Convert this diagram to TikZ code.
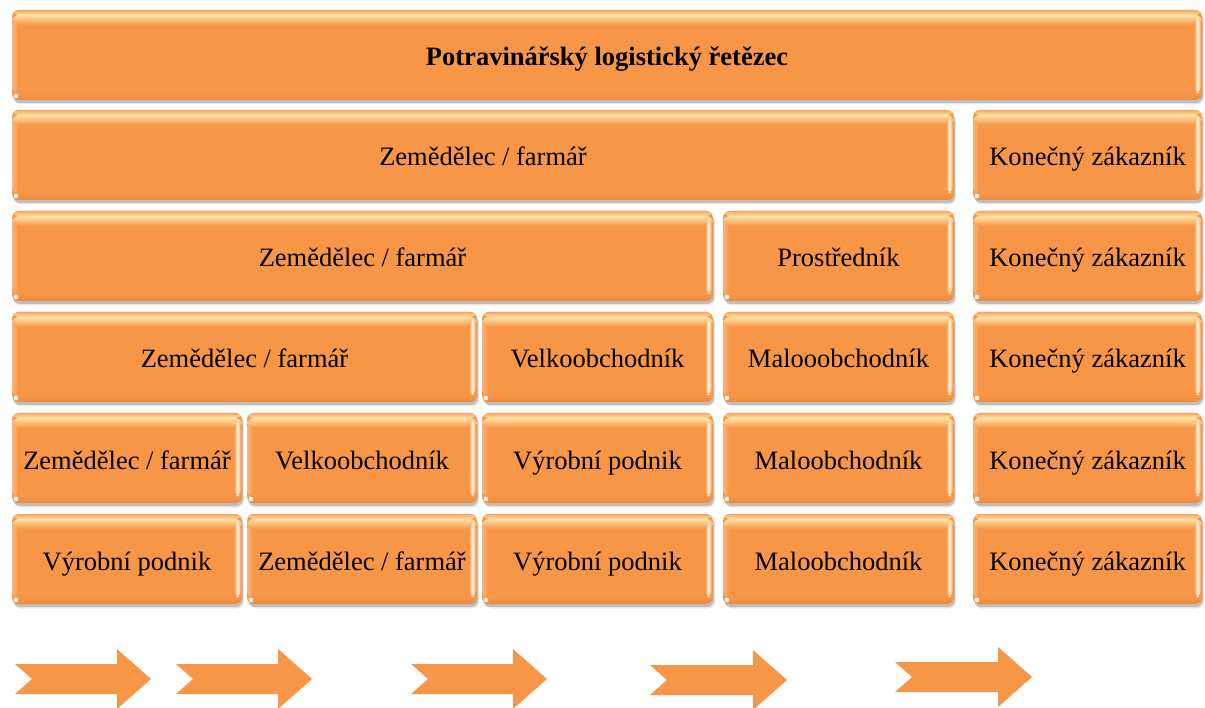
\documentclass[tikz,border=0pt]{standalone}
\usepackage{fontspec}
\setmainfont{Liberation Serif}
\usetikzlibrary{shadows,calc}

\definecolor{boxorange}{HTML}{F79646}
\definecolor{glow}{HTML}{FFE3A6}
\definecolor{glowwhite}{HTML}{FFF8E6}
\definecolor{rimdark}{HTML}{EC8A3E}

\tikzset{
  gbox/.style={
    rounded corners=7pt, fill=boxorange, inner sep=0pt,
    font=\fontsize{26.5}{30}\selectfont, text=black,
    text height=24pt, text depth=2pt,
    drop shadow={shadow xshift=1pt, shadow yshift=-3pt, opacity=0.18, fill=black},
    drop shadow={shadow xshift=2pt, shadow yshift=-4.5pt, opacity=0.09, fill=black},
    path picture={
      \path (path picture bounding box.north west) coordinate (pa)
            (path picture bounding box.south east) coordinate (pb);
      % left bevel
      \shade[left color=boxorange!70!white, right color=boxorange]
        ($(pa)+(0,8)$) rectangle ($(pa|-pb)+(6,-6)$);
      % bottom rim
      \shade[top color=boxorange, bottom color=rimdark]
        ($(pa|-pb)+(0,-7)$) rectangle (pb);
      % top bevel glare
      \shade[top color=boxorange!85!white, bottom color=glow]
        (pa) rectangle ($(pb|-pa)+(0,5)$);
      \shade[top color=glow, bottom color=boxorange]
        ($(pa)+(0,5)$) rectangle ($(pb|-pa)+(0,15)$);
      % right glossy streak
      \shade[left color=boxorange, right color=boxorange, middle color=glowwhite]
        ($(pb|-pa)+(-8,8)$) rectangle ($(pb)+(-1,-7)$);
      % small corner spark
      \fill[white, opacity=0.9] ($(pa|-pb)+(4,-4)$) circle (2.3);
    }
  },
  title/.style={font=\fontsize{26.5}{30}\selectfont\bfseries,
    text height=24pt, text depth=2pt},
  flowarrow/.style={fill=boxorange, draw=none}
}

% name, left, top, right, bottom, text
\newcommand\glossbox[6]{%
  \node[gbox, minimum width={(#4-#2)*1pt}, minimum height={(#5-#3)*1pt}]
    (#1) at ({(#2+#4)/2},{(#3+#5)/2}) {#6};%
}
% notched block arrow: tail x, tip x, tip y
\newcommand\blockarrow[3]{%
  \fill[flowarrow] (#1,#3-15) -- (#2-34,#3-15) -- (#2-34,#3-30) -- (#2,#3)
    -- (#2-34,#3+30) -- (#2-34,#3+15) -- (#1,#3+15) -- (#1+17,#3) -- cycle;%
}

\begin{document}
\begin{tikzpicture}[x=1pt,y=-1pt]
\useasboundingbox (0,0) rectangle (1205,708);

% header
\glossbox{head}{12}{10}{1202}{100}{}
\node[title] (headtext) at (head.center) {Potravinářský logistický řetězec};

% row 1
\glossbox{ra1}{12}{110}{954}{200}{Zemědělec / farmář}
\glossbox{ra2}{973}{110}{1202}{200}{Konečný zákazník}

% row 2
\glossbox{rb1}{12}{211}{713}{301}{Zemědělec / farmář}
\glossbox{rb2}{723}{211}{954}{301}{Prostředník}
\glossbox{rb3}{973}{211}{1202}{301}{Konečný zákazník}

% row 3
\glossbox{rc1}{12}{312}{477}{402}{Zemědělec / farmář}
\glossbox{rc2}{482}{312}{713}{402}{Velkoobchodník}
\glossbox{rc3}{723}{312}{954}{402}{Malooobchodník}
\glossbox{rc4}{973}{312}{1202}{402}{Konečný zákazník}

% row 4
\glossbox{rd1}{12}{413}{242}{503}{Zemědělec / farmář}
\glossbox{rd2}{247}{413}{477}{503}{Velkoobchodník}
\glossbox{rd3}{482}{413}{713}{503}{Výrobní podnik}
\glossbox{rd4}{723}{413}{954}{503}{Maloobchodník}
\glossbox{rd5}{973}{413}{1202}{503}{Konečný zákazník}

% row 5
\glossbox{re1}{12}{514}{242}{604}{Výrobní podnik}
\glossbox{re2}{247}{514}{477}{604}{Zemědělec / farmář}
\glossbox{re3}{482}{514}{713}{604}{Výrobní podnik}
\glossbox{re4}{723}{514}{954}{604}{Maloobchodník}
\glossbox{re5}{973}{514}{1202}{604}{Konečný zákazník}

% flow arrows
\blockarrow{15}{151}{679}
\blockarrow{176}{312}{679}
\blockarrow{411}{547}{679}
\blockarrow{650}{787}{680}
\blockarrow{895}{1032}{677}
\end{tikzpicture}
\end{document}
